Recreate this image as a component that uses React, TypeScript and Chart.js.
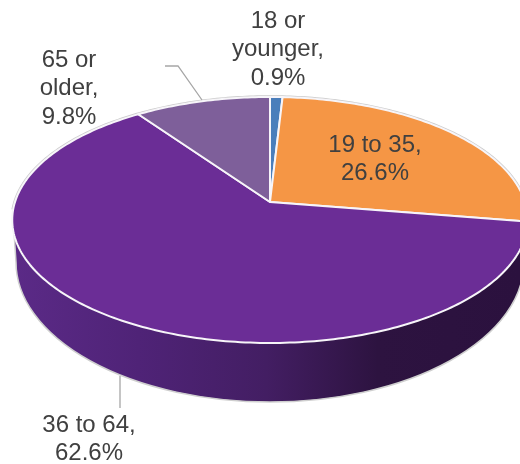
import { useEffect, useRef } from "react";
import { Chart, registerables } from "chart.js";

Chart.register(...registerables);

const categories = ["18 or younger", "19 to 35", "36 to 64", "65 or older"];
const shares = [0.9, 26.6, 62.6, 9.8];
const sliceColors = ["#4a7ebb", "#f59645", "#6b2d96", "#7e5f9a"];
const labelLines = [
  ["18 or", "younger,", "0.9%"],
  ["19 to 35,", "26.6%"],
  ["36 to 64,", "62.6%"],
  ["65 or", "older,", "9.8%"],
];
const labelAnchors = [
  [278, 21],
  [375, 145],
  [89, 425],
  [69, 60],
];
const leaderLines = [
  [[120, 376], [120, 408]],
  [[165, 66], [178, 66], [202, 100]],
];

// Tilted disc: a unit circle seen in perspective, apex at (APEX_X, APEX_Y).
const APEX_X = 270;
const APEX_Y = 202;
const SPREAD_X = 255;
const SPREAD_Y = 120.4;
const TILT = 0.146;

const project = (angle: number) => {
  const u = Math.cos(angle);
  const v = Math.sin(angle);
  const w = 1 - TILT * v;
  return [APEX_X + (SPREAD_X * u) / w, APEX_Y + (SPREAD_Y * v) / w];
};

const traceArc = (ctx: CanvasRenderingContext2D, from: number, to: number) => {
  const steps = Math.max(4, Math.ceil(Math.abs(to - from) * 60));
  for (let i = 0; i <= steps; i++) {
    const [x, y] = project(from + ((to - from) * i) / steps);
    ctx.lineTo(x, y);
  }
};

const drawWall = (ctx: CanvasRenderingContext2D) => {
  const wall = ctx.createLinearGradient(12, 0, 520, 0);
  wall.addColorStop(0, "#5b2a87");
  wall.addColorStop(0.25, "#4f2377");
  wall.addColorStop(0.5, "#431e63");
  wall.addColorStop(0.72, "#2d1340");
  wall.addColorStop(1, "#2b113e");
  const trace = () => {
    ctx.beginPath();
    ctx.moveTo(14, 232);
    ctx.lineTo(16, 262);
    ctx.ellipse(270, 262, 254, 140, 0, Math.PI, 0, true);
    ctx.lineTo(526, 232);
  };
  trace();
  ctx.closePath();
  ctx.fillStyle = wall;
  ctx.fill();
  trace();
  ctx.strokeStyle = "#cfcfcf";
  ctx.lineWidth = 1.5;
  ctx.stroke();
};

const tiltedPie = {
  id: "tiltedPie",
  beforeDatasetDraw(chart: Chart) {
    const ctx = chart.ctx;
    const arcs = chart.getDatasetMeta(0).data as any[];
    ctx.save();
    ctx.lineJoin = "round";
    drawWall(ctx);

    // Soft grey rim along the far side of the disc.
    ctx.beginPath();
    traceArc(ctx, Math.PI * 0.98, Math.PI * 2.02);
    ctx.strokeStyle = "#cccccc";
    ctx.lineWidth = 3.5;
    ctx.stroke();

    arcs.forEach((arc, i) => {
      const { startAngle, endAngle } = arc.getProps(["startAngle", "endAngle"], true);
      ctx.beginPath();
      ctx.moveTo(APEX_X, APEX_Y);
      traceArc(ctx, startAngle, endAngle);
      ctx.closePath();
      ctx.fillStyle = sliceColors[i];
      ctx.fill();
      ctx.strokeStyle = "#f7f5f9";
      ctx.lineWidth = 2;
      ctx.stroke();
    });
    ctx.restore();
    return false;
  },
  afterDraw(chart: Chart) {
    const ctx = chart.ctx;
    ctx.save();
    ctx.strokeStyle = "#a6a6a6";
    ctx.lineWidth = 1.3;
    leaderLines.forEach((line) => {
      ctx.beginPath();
      line.forEach(([x, y], i) => (i ? ctx.lineTo(x, y) : ctx.moveTo(x, y)));
      ctx.stroke();
    });
    ctx.fillStyle = "#404040";
    ctx.font = '24px "Liberation Sans"';
    ctx.textAlign = "center";
    ctx.textBaseline = "middle";
    labelLines.forEach((lines, i) => {
      const [x, y] = labelAnchors[i];
      lines.forEach((text, row) => ctx.fillText(text, x, y + row * 28.5));
    });
    ctx.restore();
  },
};

export default function App() {
  const canvasRef = useRef<HTMLCanvasElement>(null);

  useEffect(() => {
    const chart = new Chart(canvasRef.current!, {
      type: "pie",
      data: {
        labels: categories,
        datasets: [{ data: shares, backgroundColor: sliceColors }],
      },
      options: {
        responsive: false,
        animation: false,
        plugins: { legend: { display: false }, tooltip: { enabled: false } },
      },
      plugins: [tiltedPie],
    });
    return () => chart.destroy();
  }, []);

  return (
    <div style={{ position: "fixed", left: 0, top: 0, width: 520, height: 464, background: "#fff" }}>
      <canvas ref={canvasRef} width={520} height={464} style={{ display: "block" }} />
    </div>
  );
}
